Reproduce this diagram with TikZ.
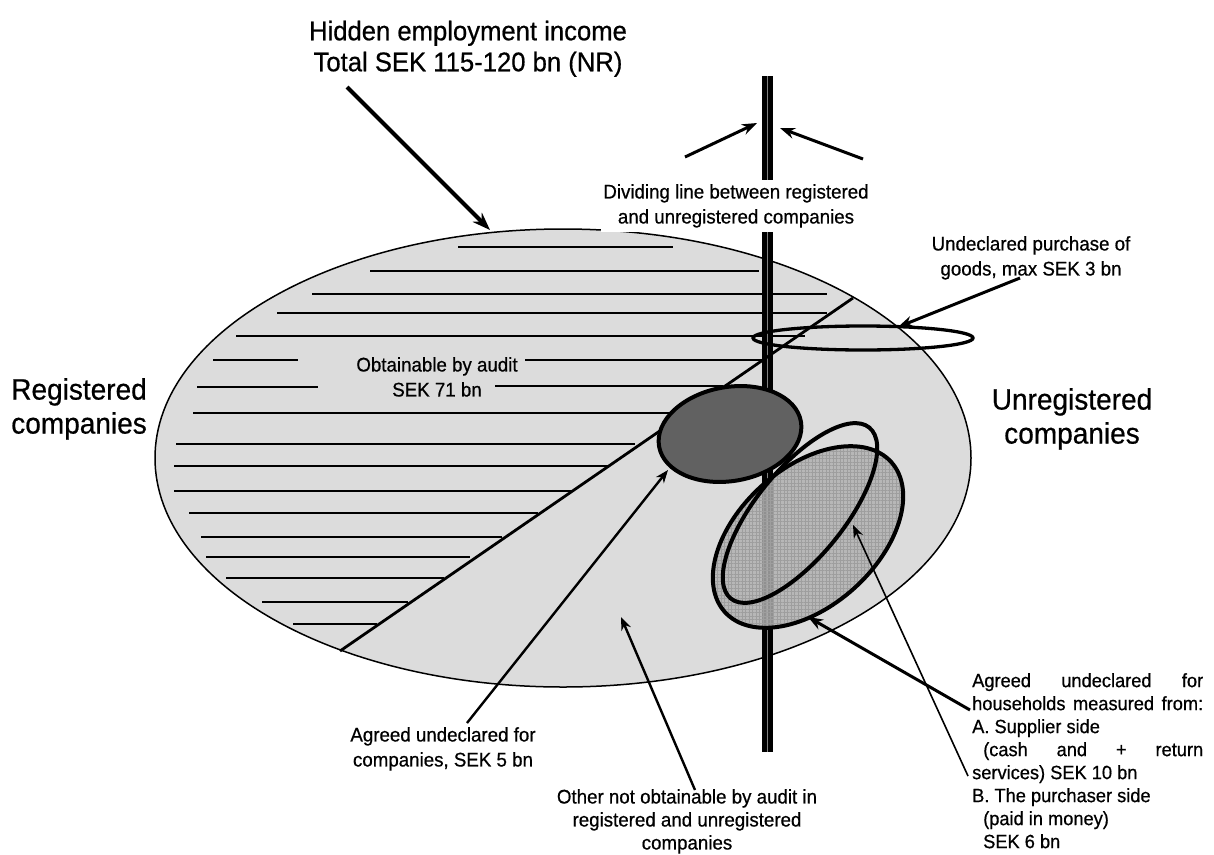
\documentclass[tikz,border=0pt]{standalone}
\usepackage{fontspec}
\setmainfont{Liberation Sans}[FakeStretch=0.95,FakeBold=0.6]
\usetikzlibrary{arrows.meta,patterns.meta}
\definecolor{bgfill}{gray}{0.863}
\definecolor{darkfill}{gray}{0.38}
\definecolor{afill}{gray}{0.69}
\definecolor{gridc}{gray}{0.62}
\begin{document}
\begin{tikzpicture}[x=1pt,y=-1pt,
  titlef/.style={font=\fontsize{27}{31}\selectfont},
  bigf/.style={font=\fontsize{29.5}{34}\selectfont},
  smallf/.style={font=\fontsize{19.7}{25}\selectfont},
  lbl/.style={inner sep=0pt, align=center, anchor=north},
  hatchline/.style={line width=1.8pt},
  ring/.style={line width=4pt},
  arrA/.style={line width=4pt, -{Stealth[length=18pt,width=13pt]}},
  arrB/.style={line width=3pt, -{Stealth[length=15pt,width=11pt]}},
  arrC/.style={line width=2.4pt, -{Stealth[length=13pt,width=10pt]}},
  arrD/.style={line width=1.6pt, -{Stealth[length=13pt,width=10pt]}}
]
\useasboundingbox (0,0) rectangle (1214,854);

% big ellipse
\fill[bgfill] (563,458) ellipse [x radius=408, y radius=229];

% hatch lines
\foreach \y/\a/\b in {247/458/673, 271/370/759, 294/312/827, 313/277/827,
  336/236/805, 360/213/298, 360/525/762, 387/197/318, 386/495/723,
  413/193/672, 444/176/635, 466/174/608, 491/174/573, 513/189/538,
  537/201/502, 557/206/470, 578/226/444, 602/262/408, 624/293/377}
  \draw[hatchline] (\a,\y) -- (\b,\y);

\draw[line width=1.5pt] (563,458) ellipse [x radius=408, y radius=229];

% dividing bar
\coordinate (bartop) at (767.5,76);
\coordinate (barbot) at (767.5,752);
\draw[line width=11pt] (bartop) -- (barbot);
\draw[gray, line width=1.5pt] (bartop) -- (barbot);

% diagonal
\coordinate (diagS) at (340,651);
\coordinate (diagE) at (853,298);
\draw[line width=2.8pt] (diagS) -- (diagE);

% purchase ellipse
\draw[line width=3.3pt] (863,338) ellipse [x radius=110, y radius=12];

% dark ellipse
\filldraw[fill=darkfill, ring, rotate around={10:(730,434)}] (730,434) ellipse [x radius=72, y radius=47];

% household ellipse A (patterned)
\fill[afill, fill opacity=0.82, rotate around={42:(808,537)}] (808,537) ellipse [x radius=112, y radius=69];
\fill[pattern={Lines[angle=0,distance=3.5pt,line width=0.5pt]}, pattern color=gridc, rotate around={42:(808,537)}] (808,537) ellipse [x radius=112, y radius=69];
\fill[pattern={Lines[angle=90,distance=3.5pt,line width=0.5pt]}, pattern color=gridc, rotate around={42:(808,537)}] (808,537) ellipse [x radius=112, y radius=69];
\draw[ring, rotate around={42:(808,537)}] (808,537) ellipse [x radius=112, y radius=69];
% household ellipse B
\draw[ring, rotate around={51:(800,513)}] (800,513) ellipse [x radius=110, y radius=44];

% texts
\node[lbl, titlef] (title) at (468,20.5) {Hidden employment income\\Total SEK 115-120 bn (NR)};
\node[lbl, smallf, fill=white, inner xsep=2pt, inner ysep=4pt] (divtext) at (736,180) {Dividing line between registered\\and unregistered companies};
\node[lbl, smallf] (purchtext) at (1031,236) {Undeclared purchase of\\goods, max SEK 3 bn};
\node[lbl, smallf] (obtain) at (437,357) {Obtainable by audit\\SEK 71 bn};
\node[inner sep=0pt, align=right, anchor=north east, bigf] (reg) at (147,378) {Registered\\companies};
\node[lbl, bigf] (unreg) at (1072,388) {Unregistered\\companies};
\node[lbl, smallf] (agreedco) at (443,727) {Agreed undeclared for\\companies, SEK 5 bn};
\node[lbl, font=\fontsize{19.7}{23}\selectfont] (other) at (687,789) {Other not obtainable by audit in\\registered and unregistered\\companies};
\node[inner sep=0pt, anchor=north west, align=left, font=\fontsize{19.2}{23}\selectfont] (households) at (972,673)
 {\makebox[231pt][l]{Agreed\hfill undeclared\hfill for}\\
  \makebox[231pt][l]{households\hfill measured\hfill from:}\\
  A.\ Supplier side\\
  \makebox[231pt][l]{\hspace*{11pt}(cash\hfill and\hfill +\hfill return}\\
  services) SEK 10 bn\\
  B.\ The purchaser side\\
  \hspace*{11pt}(paid in money)\\
  \hspace*{11pt}SEK 6 bn};

% arrow end points
\coordinate (tS) at (347,87);     \coordinate (tE) at (490,230);
\coordinate (dlS) at (685,157);   \coordinate (dlE) at (757,123);
\coordinate (drS) at (863,159);   \coordinate (drE) at (780,128);
\coordinate (pS) at (1020,278);   \coordinate (pE) at (898,327);
\coordinate (acS) at (467,723);   \coordinate (acE) at (668,470);
\coordinate (oS) at (695,790);    \coordinate (oE) at (621,617);
\coordinate (hAS) at (970,710);   \coordinate (hAE) at (808,617);
\coordinate (hBS) at (968,776);   \coordinate (hBE) at (853,525);

\draw[arrA] (tS) -- (tE);
\draw[arrB] (dlS) -- (dlE);
\draw[arrB] (drS) -- (drE);
\draw[arrB] (pS) -- (pE);
\draw[arrC] (acS) -- (acE);
\draw[arrC] (oS) -- (oE);
\draw[arrB] (hAS) -- (hAE);
\draw[arrD] (hBS) -- (hBE);
\end{tikzpicture}
\end{document}
